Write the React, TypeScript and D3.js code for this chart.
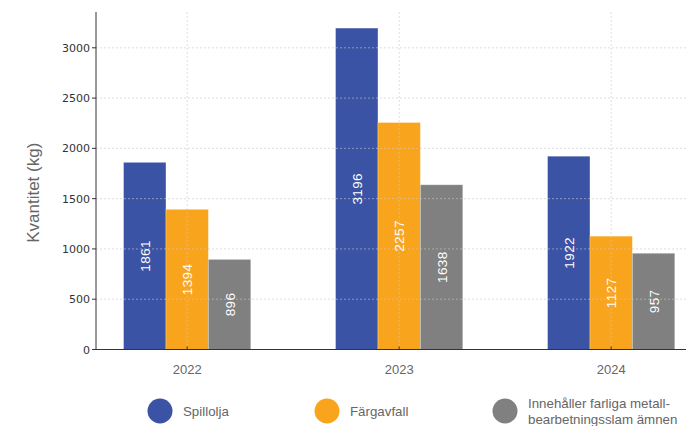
import * as d3 from 'd3';
import * as React from 'react';

const years = ['2022', '2023', '2024'];
const seriesNames = ['Spillolja', 'Färgavfall', 'Innehåller farliga metall-\nbearbetningsslam ämnen'];
const spillolja = [1861, 3196, 1922];
const fargavfall = [1394, 2257, 1127];
const slam = [896, 1638, 957];
const yTicks = [0, 500, 1000, 1500, 2000, 2500, 3000];
const colors = ['#3A53A4', '#F8A51D', '#808080'];

const W = 686;
const H = 426;
const left = 96;
const bottom = 349.5;
const top = 12;
const barW = 0.2;

export default function App() {
    const series = [spillolja, fargavfall, slam];
    const x = d3.scaleLinear().domain([-0.43, 2.43]).range([left, left + 2.86 * 212]);
    const y = d3.scaleLinear().domain([0, 3356]).range([bottom, top]);
    const tickFont = 'DejaVu Sans, sans-serif';
    const sans = 'Liberation Sans, Arial, sans-serif';

    return (
        <svg width={W} height={H} style={{position: 'absolute', left: 0, top: 0}}>
            <rect width={W} height={H} fill='white' />
            {series.map((vals, s) => vals.map((v, i) => {
                const x0 = x(i + (s - 1) * barW - barW / 2);
                const x1 = x(i + (s - 1) * barW + barW / 2);
                return (
                    <rect key={`${s}-${i}`} x={x0} y={y(v)} width={x1 - x0} height={bottom - y(v)}
                        fill={colors[s]} stroke='rgba(255,255,255,0.35)' strokeWidth={0.8} />
                );
            }))}
            <g className='grid' stroke='#c8c8c8' strokeDasharray='2,2' strokeWidth={0.7} opacity={0.85}>
                {yTicks.filter((t) => t > 0).map((t) => (
                    <line key={t} x1={left} x2={W} y1={y(t)} y2={y(t)} />
                ))}
                {years.map((yr, i) => (
                    <line key={yr} x1={x(i)} x2={x(i)} y1={top} y2={bottom} />
                ))}
            </g>
            {series.map((vals, s) => vals.map((v, i) => {
                const cx = x(i + (s - 1) * barW);
                const cy = y(v / 2);
                return (
                    <text key={`l${s}-${i}`} transform={`translate(${cx + 5},${cy}) rotate(-90)`}
                        textAnchor='middle' fill='white' fontSize={13.5} letterSpacing={0.4}
                        fontFamily={sans}>{v}</text>
                );
            }))}
            <g className='y-axis'>
                <line stroke='#333' strokeWidth={1} x1={left} x2={left} y1={top} y2={bottom} />
                {yTicks.map((t) => (
                    <g key={t} transform={`translate(0,${y(t)})`}>
                        <line stroke='#333' x1={left - 4} x2={left} y1={0} y2={0} />
                        <text textAnchor='end' x={left - 6} y={4} fontSize={11} fontFamily={tickFont} fill='#333'>{t}</text>
                    </g>
                ))}
                <text transform={`translate(39,${(top + bottom) / 2 + 12}) rotate(-90)`} textAnchor='middle'
                    fontSize={17} fontFamily={sans} fill='#666'>Kvantitet (kg)</text>
            </g>
            <g className='x-axis'>
                <line stroke='#333' strokeWidth={1} x1={left} x2={W} y1={bottom} y2={bottom} />
                {years.map((yr, i) => (
                    <g key={yr} transform={`translate(${x(i)},${bottom})`}>
                        <line stroke='#333' x1={0} x2={0} y1={-3} y2={0} />
                        <text textAnchor='middle' y={24} fontSize={13} fontFamily={sans} fill='#666'>{yr}</text>
                    </g>
                ))}
            </g>
            <g className='legend'>
                {seriesNames.map((name, s) => {
                    const lx = [160, 327, 505][s];
                    const lines = name.split('\n');
                    return (
                        <g key={name} transform={`translate(${lx},411)`}>
                            <circle r={12.5} fill={colors[s]} />
                            {lines.map((ln, k) => (
                                <text key={ln} x={23} y={5 + (k - (lines.length - 1) / 2) * 15.5}
                                    fontSize={13.3} fontFamily={sans} fill='#666'>{ln}</text>
                            ))}
                        </g>
                    );
                })}
            </g>
        </svg>
    );
}
